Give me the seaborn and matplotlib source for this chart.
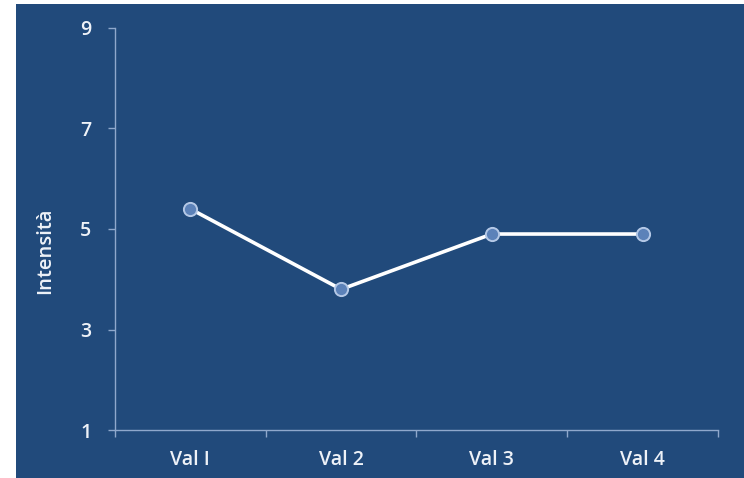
import matplotlib
matplotlib.use("Agg")
import matplotlib.pyplot as plt
from matplotlib.patches import Rectangle
import seaborn as sns
import pandas as pd

categories = ["Val I", "Val 2", "Val 3", "Val 4"]
values = [5.4, 3.8, 4.9, 4.9]
y_ticks = [1, 3, 5, 7, 9]

BG = "#214A7B"
AXIS = "#8FA8CC"
TEXT = "#EEF2F8"

sns.set_theme(style="white")
plt.rcParams["font.family"] = ["Open Sans", "DejaVu Sans"]

df = pd.DataFrame({"cat": categories, "val": values})

fig = plt.figure(figsize=(7.44, 4.78), dpi=100, facecolor="white")
fig.patches.append(Rectangle((16 / 744, 0), 1 - 16 / 744, 1 - 4 / 478,
                             transform=fig.transFigure, facecolor=BG,
                             edgecolor="none", zorder=-1))
ax = fig.add_axes([115 / 744, 48 / 478, 603 / 744, 402 / 478])
ax.set_facecolor(BG)

sns.lineplot(data=df, x="cat", y="val", ax=ax, color="white", linewidth=2.6,
             marker="o", markersize=9.5, markerfacecolor="#5C82B9",
             markeredgecolor="#B4C8E6", markeredgewidth=1.4, sort=False)

ax.set_xlim(-0.5, 3.5)
ax.set_ylim(1, 9)
ax.set_yticks(y_ticks)
ax.set_xticks(range(len(categories)))
ax.set_xticklabels(categories)
ax.set_xticks([-0.5, 0.5, 1.5, 2.5, 3.5], minor=True)

for s in ["top", "right"]:
    ax.spines[s].set_visible(False)
for s in ["left", "bottom"]:
    ax.spines[s].set_color(AXIS)
    ax.spines[s].set_linewidth(1.0)

ax.tick_params(axis="y", which="major", left=True, length=5, width=1,
               color=AXIS, labelcolor=TEXT, labelsize=14, pad=12)
ax.tick_params(axis="x", which="major", bottom=False, length=0,
               labelcolor=TEXT, labelsize=14, pad=14.5)
ax.tick_params(axis="x", which="minor", bottom=True, length=5, width=1,
               color=AXIS)
for lbl in ax.get_xticklabels() + ax.get_yticklabels():
    lbl.set_fontweight("semibold")

ax.set_xlabel("")
ax.set_ylabel("Intensità", color=TEXT, fontsize=14.5, fontweight="semibold")
ax.yaxis.set_label_coords(-0.0995, 0.445)

fig.savefig("out.png", dpi=100, facecolor="white")
